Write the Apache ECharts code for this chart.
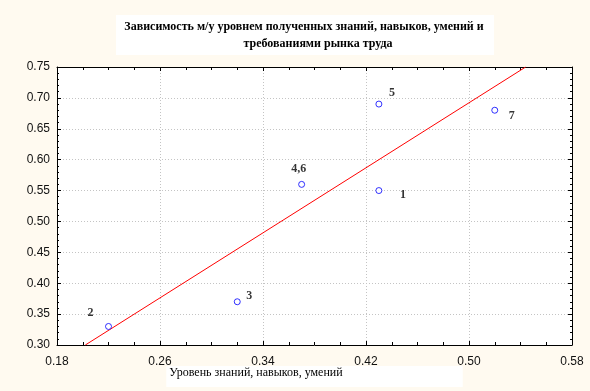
<!DOCTYPE html>
<html><head><meta charset="utf-8">
<script src="https://cdn.jsdelivr.net/npm/echarts@6/dist/echarts.min.js"></script>
<style>html,body{margin:0;padding:0;background:#fffaf0}#c{width:590px;height:391px}</style>
</head><body><div id="c"></div>
<script>
const pointLabels = ['1', '2', '3', '4,6', '5', '7'];
const xValues = [0.43, 0.22, 0.32, 0.37, 0.43, 0.52];
const yValues = [0.55, 0.33, 0.37, 0.56, 0.69, 0.68];
const fitX = [0.202, 0.544];
const fitY = [0.30, 0.75];
const xTicks = [0.18, 0.26, 0.34, 0.42, 0.50, 0.58];
const yTicks = [0.30, 0.35, 0.40, 0.45, 0.50, 0.55, 0.60, 0.65, 0.70, 0.75];
const titleLine1 = 'Зависимость м/у уровнем полученных знаний, навыков, умений и';
const titleLine2 = 'требованиями рынка труда';
const xName = 'Уровень знаний, навыков, умений';

const labelOffsets = [[24, 4], [-18, -14], [12, -6], [-3, -15], [13, -11], [17, 6]];

const chart = echarts.init(document.getElementById('c'));
const tickFont = {fontFamily: 'Liberation Sans, Arial, sans-serif', fontSize: 12, color: '#111'};
const baseX = {
  type: 'value', min: xTicks[0], max: xTicks[xTicks.length - 1], interval: 0.08,
  axisLine: {show: true, lineStyle: {color: '#000', width: 1}},
  axisTick: {show: true, inside: true, length: 4, lineStyle: {color: '#000'}},
  minorTick: {show: true, splitNumber: 4, length: 3, lineStyle: {color: '#000'}},
};
const baseY = {
  type: 'value', min: yTicks[0], max: yTicks[yTicks.length - 1], interval: 0.05,
  axisLine: {show: true, lineStyle: {color: '#000', width: 1}},
  axisTick: {show: true, inside: true, length: 4, lineStyle: {color: '#000'}},
  minorTick: {show: true, splitNumber: 5, length: 2, lineStyle: {color: '#000'}},
};
const titleFont = {fontFamily: 'Liberation Serif, Times New Roman, serif', fontWeight: 'bold', fontSize: 12, color: '#000'};
chart.setOption({
  animation: false,
  backgroundColor: '#fffaf0',
  graphic: [
    {type: 'rect', z: 0, shape: {x: 116, y: 15, width: 378, height: 40}, style: {fill: '#ffffff'}},
    {type: 'rect', z: 0, shape: {x: 57, y: 67, width: 515, height: 278}, style: {fill: '#ffffff'}}
  ],
  title: [
    {text: titleLine1, left: 299, top: 16, textAlign: 'center', textStyle: titleFont},
    {text: titleLine2, left: 313, top: 33, textAlign: 'center', textStyle: titleFont}
  ],
  grid: {left: 57, top: 67, right: 18, bottom: 46, containLabel: false, outerBoundsMode: 'none'},
  xAxis: [
    Object.assign({}, baseX, {
      position: 'bottom',
      axisLabel: Object.assign({margin: 11, formatter: v => v.toFixed(2)}, tickFont),
      splitLine: {show: true, lineStyle: {color: '#c4c4c4', type: [1, 2], width: 1}},
      name: xName, nameLocation: 'middle', nameGap: 21, nameMoveOverlap: false,
      nameTextStyle: {fontFamily: 'Liberation Serif, Times New Roman, serif', fontSize: 12, color: '#000',
        backgroundColor: '#ffffff', padding: [1, 120, 8, 3]}
    }),
    Object.assign({}, baseX, {position: 'top', axisLabel: {show: false}, splitLine: {show: false}})
  ],
  yAxis: [
    Object.assign({}, baseY, {
      position: 'left',
      axisLabel: Object.assign({margin: 7, formatter: v => v.toFixed(2)}, tickFont),
      splitLine: {show: true, lineStyle: {color: '#c4c4c4', type: [1, 2], width: 1}}
    }),
    Object.assign({}, baseY, {position: 'right', axisLabel: {show: false}, splitLine: {show: false}})
  ],
  series: [
    {
      type: 'line', data: fitX.map((x, i) => [x, fitY[i]]), symbol: 'none',
      lineStyle: {color: '#ff0000', width: 1}, z: 3, silent: true
    },
    {
      type: 'scatter', symbol: 'circle', symbolSize: 6, z: 4,
      itemStyle: {color: '#ffffff', borderColor: '#0000ff', borderWidth: 1},
      data: xValues.map((x, i) => ({
        value: [x, yValues[i]],
        label: {show: true, formatter: pointLabels[i], position: 'inside', offset: labelOffsets[i],
          fontFamily: 'Liberation Serif, Times New Roman, serif', fontWeight: 'bold', fontSize: 12, color: '#000'}
      }))
    }
  ]
});
</script></body></html>
